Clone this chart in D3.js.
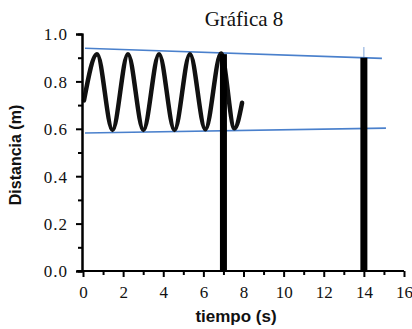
<!DOCTYPE html>
<html><head><meta charset="utf-8">
<script src="https://cdn.jsdelivr.net/npm/d3@7"></script>
<style>body{margin:0;background:#fff}svg{display:block}</style>
</head><body><svg id="c" width="412" height="329"></svg>
<script>
const title = "Gráfica 8";
const xLabel = "tiempo (s)";
const yLabel = "Distancia (m)";
const xTicks = [0,2,4,6,8,10,12,14,16];
const xMinor = [1,3,5,7,9,11,13,15];
const yTicks = [0,0.2,0.4,0.6,0.8,1.0];
const yMinor = [0.1,0.3,0.5,0.7,0.9];
// oscillation (peaks/troughs)
const waveT = [0.05,0.70,1.47,2.24,3.01,3.79,4.56,5.33,6.10,6.88,7.55,7.93];
const waveD = [0.72,0.915,0.595,0.915,0.595,0.915,0.595,0.915,0.598,0.918,0.602,0.71];
// thick vertical bars
const barT = [7,14];
const barTop = [0.915,0.90];
// blue guide lines [t0,d0,t1,d1]
const upperLine = [0.1,0.94,14.9,0.897];
const lowerLine = [0.1,0.582,15.1,0.603];
const blueTick = [14,0.90,0.945];

const svg = d3.select("#c");
const x = d3.scaleLinear().domain([0,16]).range([83,404]);
const y = d3.scaleLinear().domain([0,1]).range([271,34]);
const blue = "#4a80cc";

svg.append("line").attr("x1",x(upperLine[0])).attr("y1",y(upperLine[1])).attr("x2",x(upperLine[2])).attr("y2",y(upperLine[3])).attr("stroke",blue).attr("stroke-width",1.6);
svg.append("line").attr("x1",x(lowerLine[0])).attr("y1",y(lowerLine[1])).attr("x2",x(lowerLine[2])).attr("y2",y(lowerLine[3])).attr("stroke",blue).attr("stroke-width",1.6);
svg.append("line").attr("x1",x(blueTick[0])).attr("y1",y(blueTick[1])).attr("x2",x(blueTick[0])).attr("y2",y(blueTick[2])).attr("stroke",blue).attr("stroke-width",1).attr("opacity",0.7);

// wave
const pts = waveT.map((t,i)=>[t,waveD[i]]);
const lineGen = d3.line().x(d=>x(d[0])).y(d=>y(d[1])).curve(d3.curveMonotoneX);
svg.append("path").datum(pts).attr("d", lineGen)
  .attr("fill","none").attr("stroke","#111").attr("stroke-width",4.5).attr("stroke-linejoin","round").attr("stroke-linecap","round");

// bars
svg.selectAll("rect.bar").data(barT).join("rect").attr("class","bar")
  .attr("x",d=>x(d)-3.5).attr("width",7)
  .attr("y",(d,i)=>y(barTop[i])).attr("height",(d,i)=>y(0)-y(barTop[i]))
  .attr("fill","#000");

// axes
const ax = svg.append("g").attr("transform",`translate(0,${y(0)})`);
ax.call(d3.axisBottom(x).tickValues(xTicks).tickSize(6).tickFormat(d3.format("d")));
ax.append("g").call(d3.axisBottom(x).tickValues(xMinor).tickSize(4).tickFormat(""));
const ay = svg.append("g").attr("transform",`translate(${x(0)-1},0)`);
ay.call(d3.axisLeft(y).tickValues(yTicks).tickSize(6).tickFormat(d3.format(".1f")));
ay.append("g").call(d3.axisLeft(y).tickValues(yMinor).tickSize(4).tickFormat(""));
svg.selectAll(".domain").attr("stroke","#000").attr("stroke-width",2);
svg.selectAll(".tick line").attr("stroke","#000").attr("stroke-width",2);
ax.selectAll(".domain").attr("d",`M${x(0)-6},0H${x(16)}`);
ax.selectAll("text").style("font-family","'Liberation Serif', 'Times New Roman', serif").style("font-size","17px").attr("fill","#111").attr("dy","1.05em");
ay.selectAll("text").style("font-family","'Liberation Serif', 'Times New Roman', serif").style("font-size","17px").attr("fill","#111").attr("x",-14).attr("dy","0.35em").attr("letter-spacing",1);

// titles
svg.append("text").attr("x",244).attr("y",26).attr("text-anchor","middle")
  .style("font-family","'Liberation Serif', serif").style("font-size","21px").attr("fill","#111").text(title);
svg.append("text").attr("x",236).attr("y",322).attr("text-anchor","middle")
  .style("font-family","'Liberation Sans', Arial, sans-serif").attr("font-weight","bold").style("font-size","17px").attr("fill","#111").text(xLabel);
svg.append("text").attr("transform","translate(21,155) rotate(-90)").attr("text-anchor","middle")
  .style("font-family","'Liberation Sans', Arial, sans-serif").attr("font-weight","bold").style("font-size","16px").attr("fill","#111").text(yLabel);
</script></body></html>
